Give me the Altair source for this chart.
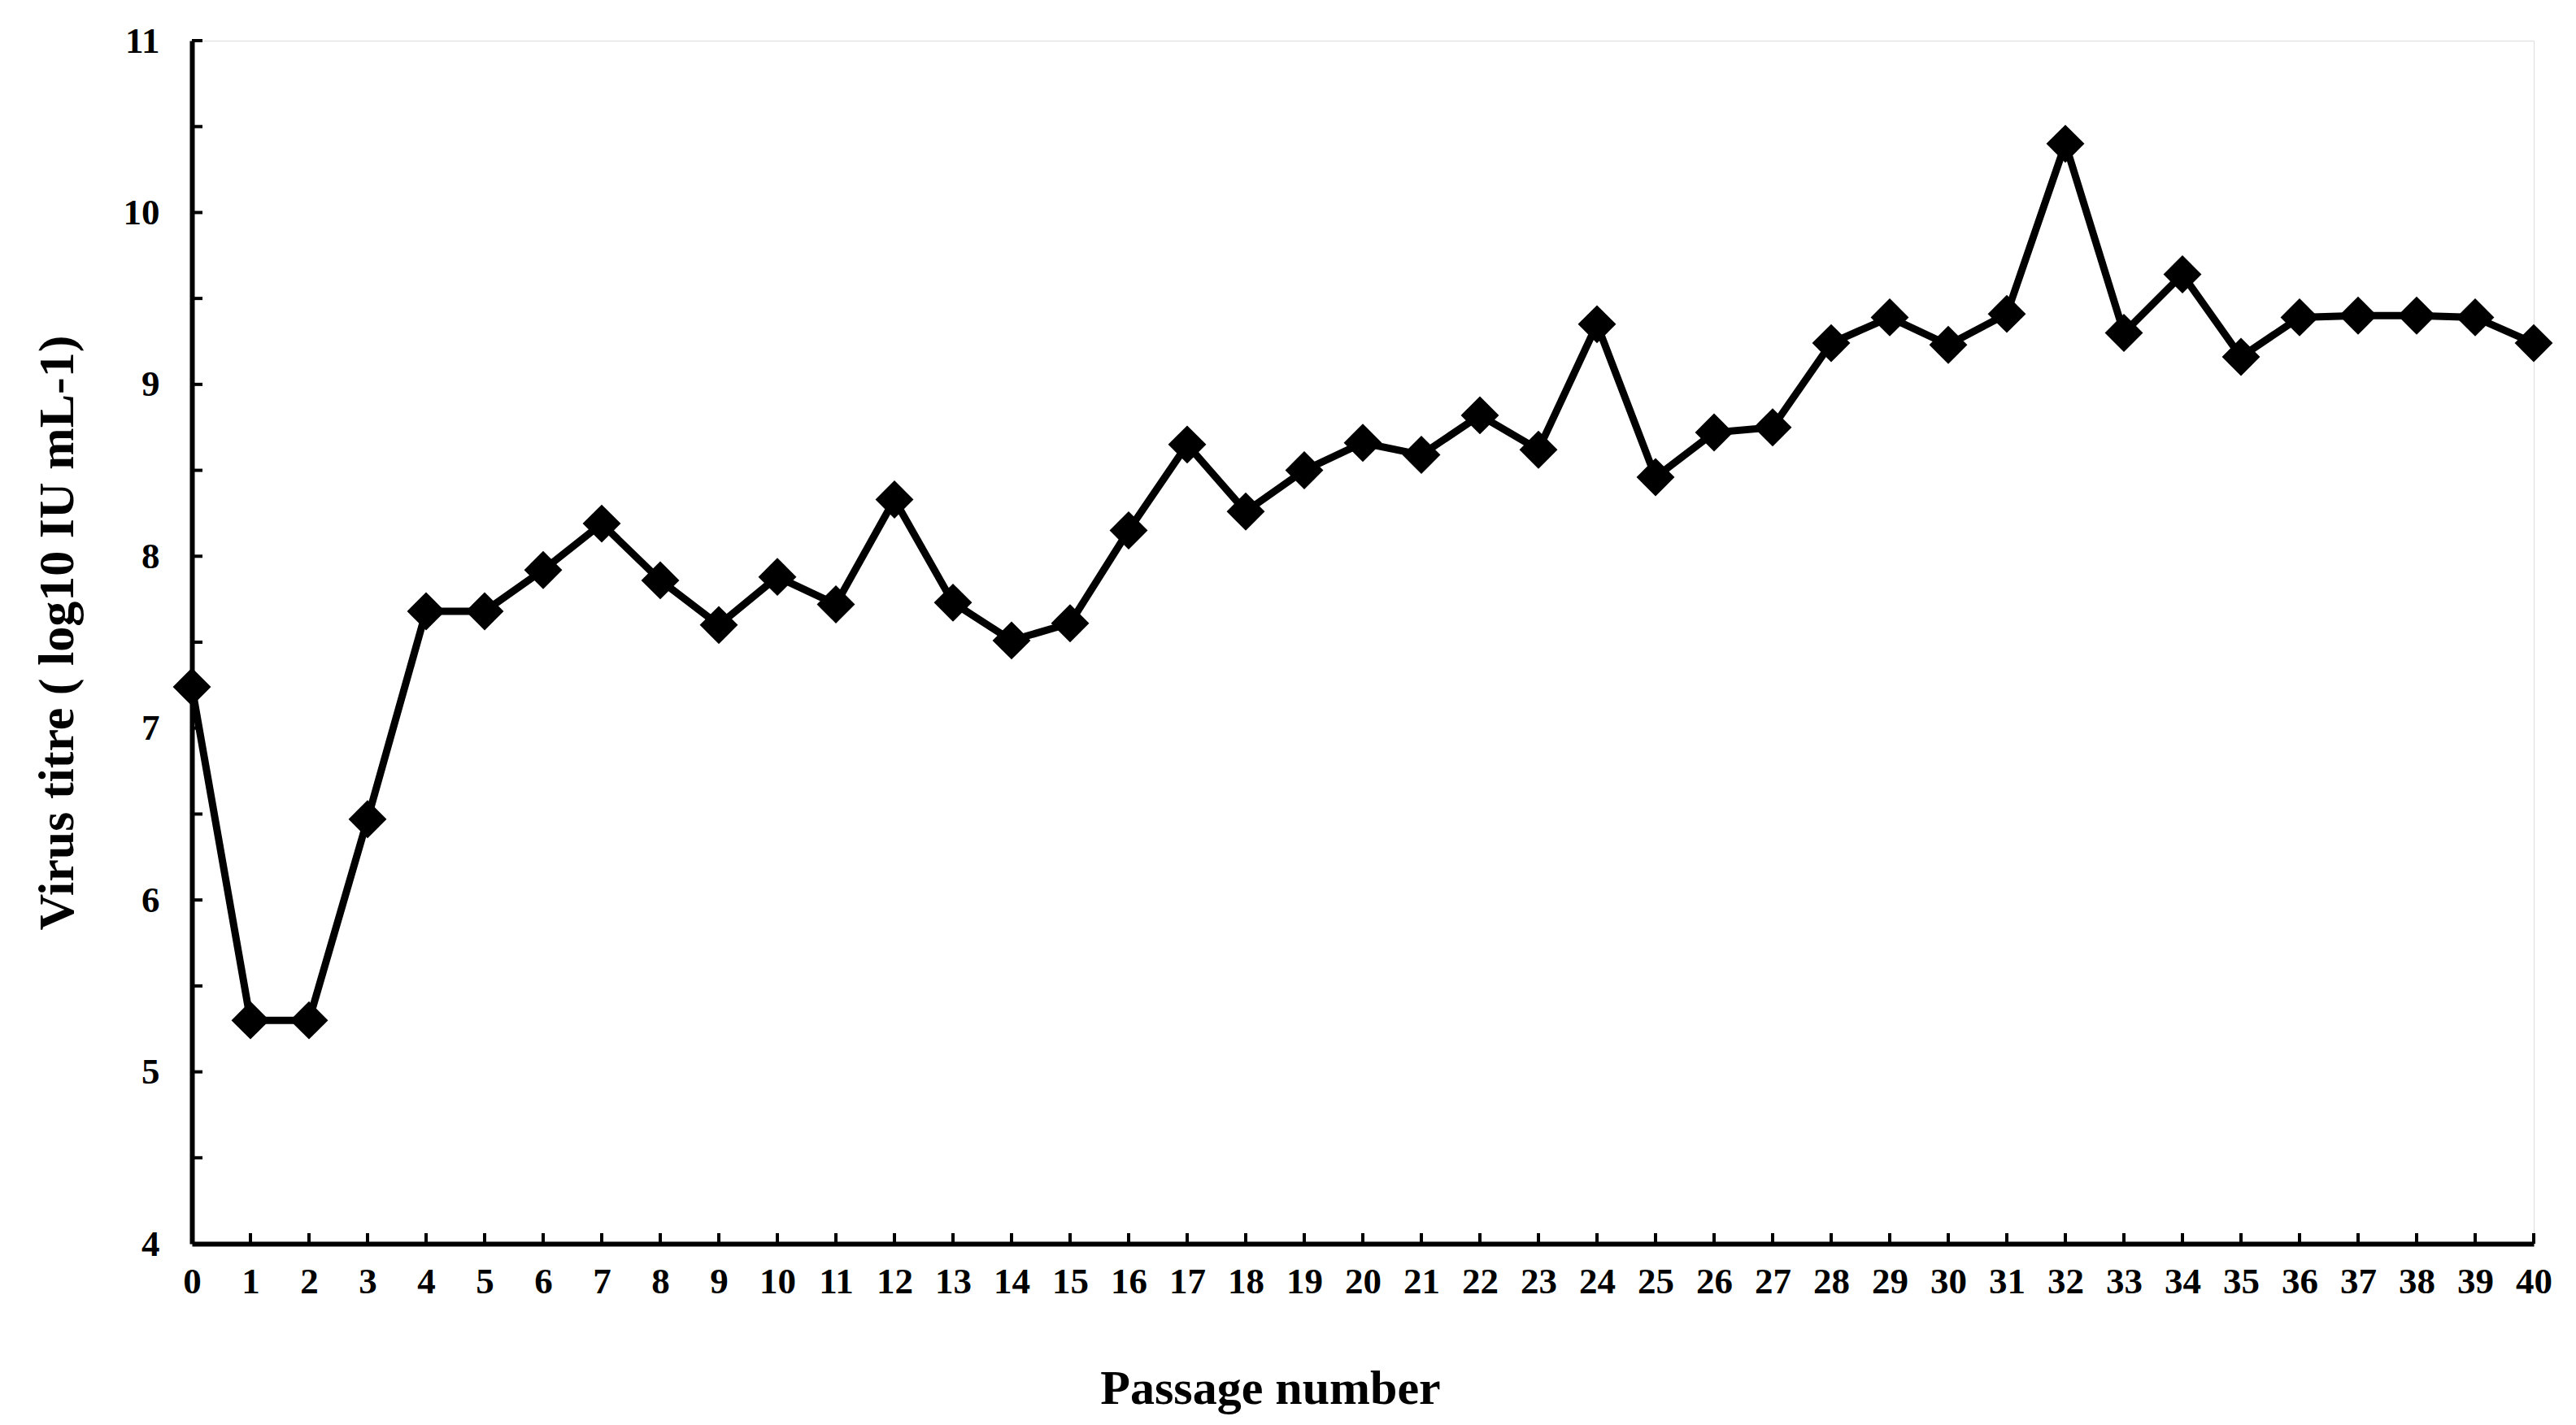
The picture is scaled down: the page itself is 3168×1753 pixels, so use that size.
import altair as alt
import pandas as pd

passages = list(range(0, 41))
titres = [7.24, 5.30, 5.30, 6.47, 7.68, 7.68, 7.92, 8.19, 7.86, 7.60,
          7.88, 7.72, 8.33, 7.73, 7.51, 7.61, 8.15, 8.65, 8.26, 8.50,
          8.66, 8.59, 8.82, 8.62, 9.35, 8.46, 8.72, 8.75, 9.24, 9.39,
          9.23, 9.41, 10.40, 9.30, 9.64, 9.16, 9.39, 9.40, 9.40, 9.39,
          9.24]
x_ticks = list(range(1, 41))
y_ticks = [4 + 0.5 * i for i in range(1, 15)]

W, H = 2880, 1480
FONT = "Liberation Serif"

df = pd.DataFrame({"passage": passages, "titre": titres})
xt = pd.DataFrame({"t": x_ticks})
yt = pd.DataFrame({"t": y_ticks})

xscale = alt.Scale(domain=[0, 40], nice=False, zero=False)
yscale = alt.Scale(domain=[4, 11], nice=False, zero=False)

xaxis = alt.Axis(values=passages, title="Passage number", ticks=False, tickSize=0,
                 grid=False, domainColor="black", domainWidth=6,
                 labelFont=FONT, labelFontWeight="bold", labelFontSize=45,
                 labelColor="black", labelPadding=24, labelFlush=False,
                 titleFont=FONT, titleFontWeight="bold", titleFontSize=60,
                 titleColor="black", titleX=1326, titleY=178,
                 titleAlign="center", titleBaseline="middle")
yaxis = alt.Axis(values=[4, 5, 6, 7, 8, 9, 10, 11], title="Virus titre ( log10 IU mL-1)",
                 ticks=False, tickSize=0, grid=False, domainColor="black",
                 domainWidth=6, labelFont=FONT, labelFontWeight="bold",
                 labelFontSize=45, labelColor="black", labelPadding=40,
                 labelFlush=False,
                 titleFont=FONT, titleFontWeight="bold", titleFontSize=62,
                 titleColor="black", titleX=-166, titleY=728, titleAngle=270,
                 titleAlign="center", titleBaseline="middle")

base = alt.Chart(df).encode(
    x=alt.X("passage:Q", scale=xscale, axis=xaxis),
    y=alt.Y("titre:Q", scale=yscale, axis=yaxis),
)
line = base.mark_line(color="black", strokeWidth=9)
pts = base.mark_point(shape="diamond", filled=True, color="black", size=2200, opacity=1)

xt_rules = alt.Chart(xt).mark_rule(color="black", strokeWidth=4).encode(
    x=alt.X("t:Q", scale=xscale, axis=xaxis),
    y=alt.value(H), y2=alt.value(H - 13),
)
yt_rules = alt.Chart(yt).mark_rule(color="black", strokeWidth=4).encode(
    y=alt.Y("t:Q", scale=yscale, axis=yaxis),
    x=alt.value(0), x2=alt.value(13),
)

chart = alt.layer(line, pts, xt_rules, yt_rules).properties(
    width=W, height=H,
    autosize=alt.AutoSizeParams(type="none"),
    padding={"left": 228, "top": 42, "right": 44, "bottom": 213},
).configure_view(strokeWidth=0, stroke="transparent").configure(background="white")

chart.save("out.html", embed_options={"renderer": "svg", "actions": False})
